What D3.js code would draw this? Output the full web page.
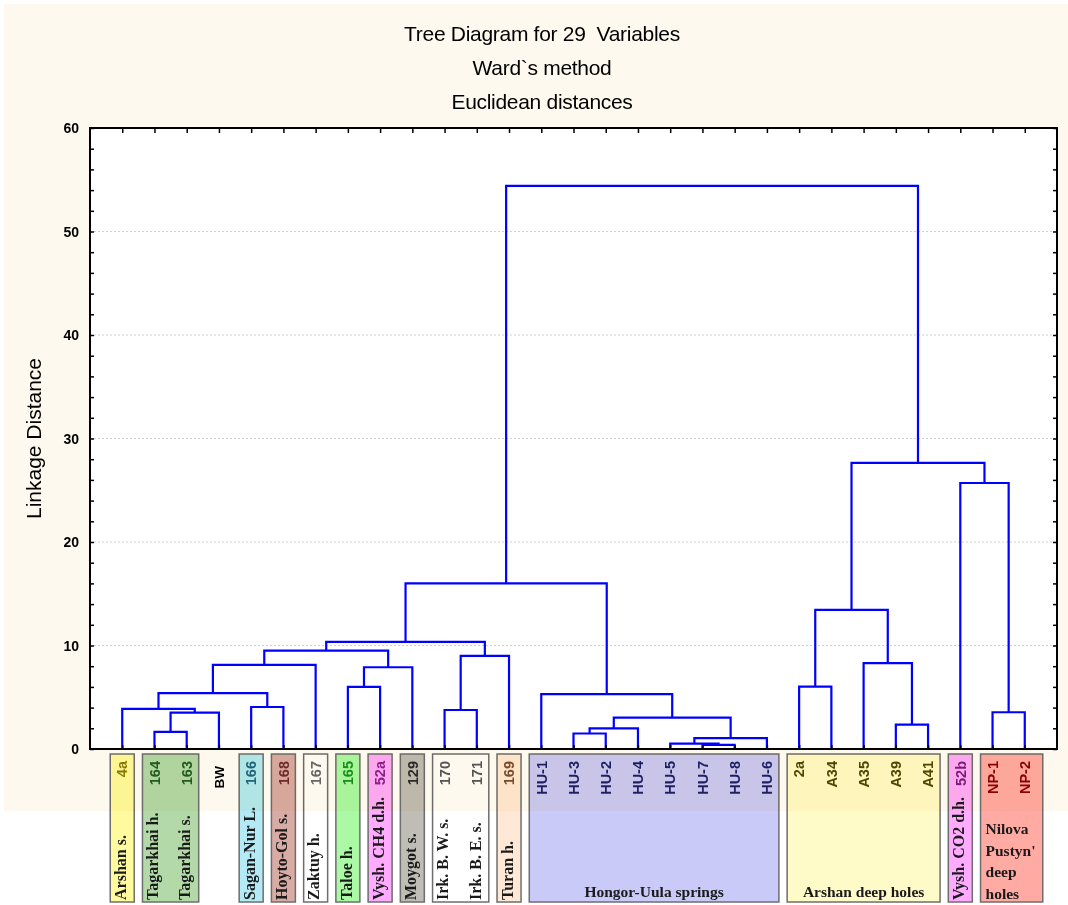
<!DOCTYPE html>
<html>
<head>
<meta charset="utf-8">
<script src="https://cdn.jsdelivr.net/npm/d3@7"></script>
<style>
  body { margin: 0; background: #ffffff; }
  svg { display: block; }
</style>
</head>
<body>
<div id="chart"></div>
<script>
// leaves, left to right, as drawn under the tree
var leafLabels = ["4a", "164", "163", "BW", "166", "168", "167", "165", "52a", "129", "170", "171", "169",
  "HU-1", "HU-3", "HU-2", "HU-4", "HU-5", "HU-7", "HU-8", "HU-6",
  "2a", "A34", "A35", "A39", "A41", "52b", "NP-1", "NP-2"];
var leafColors = ["#8a7a00", "#1f5a1f", "#1f5a1f", "#000000", "#1d6478", "#6e2a2a", "#666666", "#16901a", "#8c1e8c",
  "#2a2a2a", "#555555", "#555555", "#7a4a2a",
  "#1e1e64", "#1e1e64", "#1e1e64", "#1e1e64", "#1e1e64", "#1e1e64", "#1e1e64", "#1e1e64",
  "#504600", "#504600", "#504600", "#504600", "#504600", "#7a1a7a", "#8b0000", "#8b0000"];
// rotated site names written under a leaf ("" = none)
var siteNames = ["Arshan s.", "Tagarkhai h.", "Tagarkhai s.", "", "Sagan-Nur L.", "Hoyto-Gol s.", "Zaktuy h.",
  "Taloe h.", "Vysh. CH4 d.h.", "Moygot s.", "Irk. B. W. s.", "Irk. B. E. s.", "Turan h.",
  "", "", "", "", "", "", "", "", "", "", "", "", "", "Vysh. CO2 d.h.", "", ""];

// merges: [child A, child B, linkage distance]; ids >= 29 are earlier merges
var merges = [
  [18, 19, 0.39], [17, 29, 0.51], [30, 20, 1.06], [14, 15, 1.5], [1, 2, 1.65],
  [32, 16, 2.0], [24, 25, 2.35], [34, 31, 3.03], [33, 3, 3.52], [27, 28, 3.55],
  [10, 11, 3.77], [0, 37, 3.87], [4, 5, 4.06], [13, 36, 5.3], [40, 41, 5.39],
  [7, 8, 6.0], [21, 22, 6.03], [44, 9, 7.9], [43, 6, 8.13], [23, 35, 8.3],
  [39, 12, 9.0], [47, 46, 9.5], [50, 49, 10.35], [45, 48, 13.45], [51, 42, 16.0],
  [26, 38, 25.7], [52, 54, 27.65], [53, 55, 54.4]
];

// coloured boxes under the axis: first leaf, last leaf
var boxFirst = [0, 1, 4, 5, 6, 7, 8, 9, 10, 12, 13, 21, 26, 27];
var boxLast  = [0, 2, 4, 5, 6, 7, 8, 9, 11, 12, 20, 25, 26, 28];
var boxFills = ["#fffa9e", "#b3d9a9", "#b3eaf5", "#d8aba4", "#ffffff", "#abf9a4", "#ffabff", "#bfbdb6",
  "#ffffff", "#ffe9d6", "#cacaf8", "#fffbc9", "#ffabff", "#ffaba4"];
// horizontal group names: box index and lines
var groupBox = [10, 11, 13];
var groupLines = [["Hongor-Uula springs"], ["Arshan deep holes"], ["Nilova", "Pustyn'", "deep", "holes"]];

var yTicks = [0, 10, 20, 30, 40, 50, 60];
var titleLines = ["Tree Diagram for 29  Variables", "Ward`s method", "Euclidean distances"];

(function() {
var W = 1068, H = 905;
var pL = 90, pR = 1057, pT = 128, pB = 749;
var n = leafLabels.length;

var svg = d3.select("#chart").append("svg").attr("width", W).attr("height", H);

// cream figure background
svg.append("rect").attr("x", 4).attr("y", 4).attr("width", W - 4).attr("height", 807).attr("fill", "#fdf9ef");

var x = d3.scaleLinear().domain([0, n + 1]).range([pL, pR]);
var y = d3.scaleLinear().domain([0, 60]).range([pB, pT]);

svg.append("rect").attr("x", pL).attr("y", pT).attr("width", pR - pL).attr("height", pB - pT)
  .attr("fill", "#ffffff");

// grid
svg.append("g").selectAll("line").data(yTicks.filter(function(d) { return d > 0 && d < 60; }))
  .enter().append("line")
  .attr("x1", pL).attr("x2", pR)
  .attr("y1", function(d) { return y(d); }).attr("y2", function(d) { return y(d); })
  .attr("stroke", "#d0d0d0").attr("stroke-width", 1).attr("stroke-dasharray", "2,2");

// dendrogram
var nodeX = [], nodeH = [];
for (var i = 0; i < n; i++) { nodeX.push(x(i + 1)); nodeH.push(0); }
var links = [];
merges.forEach(function(m) {
  var a = m[0], b = m[1], h = m[2];
  links.push({ xa: nodeX[a], ha: nodeH[a], xb: nodeX[b], hb: nodeH[b], h: h });
  nodeX.push((nodeX[a] + nodeX[b]) / 2);
  nodeH.push(h);
});
svg.append("g").selectAll("path").data(links).enter().append("path")
  .attr("d", function(d) {
    return "M" + d.xa + "," + y(d.ha) + "V" + y(d.h) + "H" + d.xb + "V" + y(d.hb);
  })
  .attr("fill", "none").attr("stroke", "#0000ff").attr("stroke-width", 2.2);

// frame, axes and ticks
var minor = d3.range(0, 61, 2);
var axL = svg.append("g").attr("transform", "translate(" + pL + ",0)")
  .call(d3.axisLeft(y).tickValues(minor).tickSize(-4).tickFormat(""));
var axR = svg.append("g").attr("transform", "translate(" + pR + ",0)")
  .call(d3.axisRight(y).tickValues(minor).tickSize(-4).tickFormat(""));
var leafPos = d3.range(1, n + 1);
var axT = svg.append("g").attr("transform", "translate(0," + pT + ")")
  .call(d3.axisTop(x).tickValues(leafPos).tickSize(-5).tickFormat(""));
var axB = svg.append("g").attr("transform", "translate(0," + pB + ")")
  .call(d3.axisBottom(x).tickValues(leafPos).tickSize(-4).tickFormat(""));
[axL, axR, axT, axB].forEach(function(g) {
  g.select(".domain").remove();
  g.selectAll("line").attr("stroke", "#000").attr("stroke-width", 1.5);
});
svg.append("rect").attr("x", pL).attr("y", pT).attr("width", pR - pL).attr("height", pB - pT)
  .attr("fill", "none").attr("stroke", "#000").attr("stroke-width", 2);

svg.append("g").selectAll("text").data(yTicks).enter().append("text")
  .attr("x", pL - 11).attr("y", function(d) { return y(d); }).attr("dy", "0.36em")
  .attr("text-anchor", "end")
  .style("font-family", "Arial, 'Liberation Sans', sans-serif").style("font-weight", "bold").style("font-size", "14px")
  .text(function(d) { return d; });

svg.append("text")
  .attr("transform", "translate(41," + ((pT + pB) / 2) + ") rotate(-90)")
  .attr("text-anchor", "middle")
  .style("font-family", "Arial, 'Liberation Sans', sans-serif").style("font-size", "21px")
  .text("Linkage Distance");

// titles
svg.append("g").selectAll("text").data(titleLines).enter().append("text")
  .attr("x", 542).attr("y", function(d, i) { return 41 + i * 34; })
  .attr("text-anchor", "middle")
  .style("font-family", "Arial, 'Liberation Sans', sans-serif").style("font-size", "21px")
  .style("white-space", "pre").style("letter-spacing", "-0.3px")
  .text(function(d) { return d; });

// group boxes (multiply so they darken over the cream background)
var boxTop = 754, boxBottom = 902;
var boxG = svg.append("g");
boxFirst.forEach(function(f, k) {
  var x0 = x(f + 1) - 12, x1 = x(boxLast[k] + 1) + 12;
  if (groupBox.indexOf(k) >= 0 && groupLines[groupBox.indexOf(k)].length > 1) x1 = x(boxLast[k] + 1) + 18;
  boxG.append("rect").attr("x", x0).attr("y", boxTop).attr("width", x1 - x0).attr("height", boxBottom - boxTop)
    .attr("fill", boxFills[k]).style("mix-blend-mode", "multiply")
    .attr("stroke", "#6e6e6e").attr("stroke-width", 1.5);
});

// leaf labels
svg.append("g").selectAll("text").data(leafLabels).enter().append("text")
  .attr("transform", function(d, i) { return "translate(" + x(i + 1) + "," + (d === "BW" ? 766 : 761) + ") rotate(-90)"; })
  .attr("dy", "0.36em").attr("text-anchor", "end")
  .style("font-family", "Arial, 'Liberation Sans', sans-serif").style("font-weight", "bold")
  .style("font-size", function(d) { return d === "BW" ? "13.5px" : "14.5px"; })
  .attr("fill", function(d, i) { return leafColors[i]; })
  .text(function(d) { return d; });

// rotated site names
svg.append("g").selectAll("text").data(siteNames).enter().append("text")
  .attr("transform", function(d, i) { return "translate(" + (x(i + 1) - 2) + ",900) rotate(-90)"; })
  .attr("dy", "0.36em").attr("text-anchor", "start")
  .style("font-family", "'Times New Roman', 'Liberation Serif', serif").style("font-weight", "bold").style("font-size", "16px")
  .attr("fill", "#1a1a1a")
  .text(function(d) { return d; });

// horizontal group names
groupBox.forEach(function(k, j) {
  var lines = groupLines[j];
  var x0 = x(boxFirst[k] + 1) - 12, x1 = x(boxLast[k] + 1) + 12;
  var t = svg.append("text")
    .style("font-family", "'Times New Roman', 'Liberation Serif', serif").style("font-weight", "bold").style("font-size", "15.5px")
    .attr("fill", "#1a1a1a");
  if (lines.length === 1) {
    t.attr("x", (x0 + x1) / 2).attr("y", 897).attr("text-anchor", "middle").text(lines[0]);
  } else {
    lines.forEach(function(l, li) {
      t.append("tspan").attr("x", x0 + 5).attr("y", 834 + li * 21.5).text(l);
    });
  }
});
})();
</script>
</body>
</html>
